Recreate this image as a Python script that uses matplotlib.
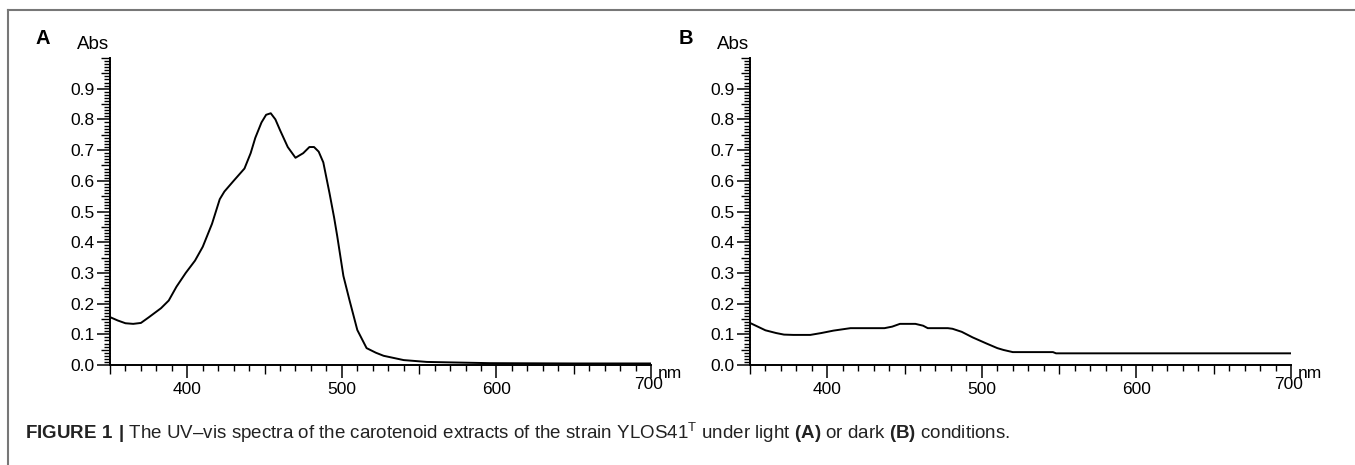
import matplotlib
matplotlib.use("Agg")
import matplotlib.pyplot as plt
from matplotlib.ticker import MultipleLocator
from matplotlib.lines import Line2D

plt.rcParams['font.family'] = ['Liberation Sans', 'DejaVu Sans']
plt.rcParams['mathtext.fontset'] = 'custom'
plt.rcParams['mathtext.rm'] = 'Liberation Sans'
plt.rcParams['mathtext.bf'] = 'Liberation Sans:bold'

# Spektrum A (Licht)
nm_a = [350, 355, 360, 365, 370, 375, 379, 383, 388, 393, 399, 405, 410, 416,
        421, 424, 430, 437, 441, 444, 448, 451, 454, 457, 460, 465, 470, 475,
        479, 482, 485, 488, 492, 495, 497, 501, 505, 510, 516, 522, 527, 540,
        555, 575, 596, 650, 700]
abs_a = [0.156, 0.145, 0.136, 0.134, 0.137, 0.155, 0.170, 0.185, 0.21, 0.255,
         0.30, 0.34, 0.385, 0.46, 0.54, 0.565, 0.60, 0.64, 0.69, 0.74, 0.79,
         0.815, 0.82, 0.80, 0.765, 0.71, 0.675, 0.69, 0.71, 0.71, 0.695, 0.66,
         0.56, 0.48, 0.42, 0.29, 0.21, 0.114, 0.055, 0.04, 0.03, 0.016, 0.01,
         0.008, 0.006, 0.005, 0.005]

# Spektrum B (Dunkel)
nm_b = [350, 355, 360, 367, 372, 378, 389, 396, 404, 415, 437, 442, 447, 457,
        462, 465, 478, 481, 487, 494, 503, 510, 514, 520, 546, 548, 700]
abs_b = [0.137, 0.125, 0.113, 0.104, 0.099, 0.098, 0.098, 0.104, 0.112, 0.12,
         0.12, 0.125, 0.134, 0.134, 0.128, 0.12, 0.12, 0.118, 0.108, 0.09,
         0.07, 0.055, 0.049, 0.042, 0.042, 0.038, 0.038]

x_ticks = [400, 500, 600, 700]
x_labels = ['400', '500', '600', '']
y_ticks = [0.0, 0.1, 0.2, 0.3, 0.4, 0.5, 0.6, 0.7, 0.8, 0.9]
y_labels = ['0.0', '0.1', '0.2', '0.3', '0.4', '0.5', '0.6', '0.7', '0.8', '0.9']

W, H = 1355, 465
fig = plt.figure(figsize=(W / 100, H / 100), dpi=100)


def panel(left_px, x, y, letter, letter_dx):
    ax = fig.add_axes([left_px / W, 1 - 365 / H, 541 / W, 307 / H])
    ax.plot(x, y, color='black', lw=1.4)
    ax.set_xlim(350, 700)
    ax.set_ylim(0, 1.0)
    for s in ['top', 'right']:
        ax.spines[s].set_visible(False)
    for s in ['left', 'bottom']:
        ax.spines[s].set_linewidth(1.4)
    ax.set_xticks(x_ticks)
    ax.set_xticklabels(x_labels)
    ax.set_yticks(y_ticks)
    ax.set_yticklabels(y_labels)
    ax.xaxis.set_minor_locator(MultipleLocator(10))
    ax.yaxis.set_minor_locator(MultipleLocator(0.01))
    ax.tick_params(which='major', length=9.5, width=1.1, labelsize=12.5, color='black')
    ax.tick_params(axis='x', which='major', pad=3)
    ax.tick_params(axis='y', which='major', pad=1.5)
    ax.tick_params(which='minor', length=4.3, width=1.0)
    # die 50er Striche etwas laenger
    fig.canvas.draw()
    for t in ax.xaxis.get_minor_ticks():
        if abs(t.get_loc() % 50) < 1e-6:
            t.tick1line.set_markersize(6.5)
    for t in ax.yaxis.get_minor_ticks():
        v = round(t.get_loc() * 100)
        if v % 5 == 0:
            t.tick1line.set_markersize(6.5)
    ax.text(-0.031, 1.045, 'Abs', transform=ax.transAxes, ha='center', va='center', fontsize=13.5)
    ax.text(letter_dx, 1.062, letter, transform=ax.transAxes, ha='center', va='center',
            fontsize=14.5, fontweight='bold')
    ax.text(0.995, -0.04, '700', transform=ax.transAxes, ha='center', va='top', fontsize=12.5)
    ax.text(1.012, -0.002, 'nm', transform=ax.transAxes, ha='left', va='top', fontsize=12.5)
    return ax


panel(110, nm_a, abs_a, 'A', -0.124)
panel(750, nm_b, abs_b, 'B', -0.118)

# Rahmen oben und links
fig.add_artist(Line2D([8 / W, 1], [1 - 10 / H, 1 - 10 / H], transform=fig.transFigure,
                      color='#777777', lw=1.5))
fig.add_artist(Line2D([8 / W, 8 / W], [1 - 10 / H, 0], transform=fig.transFigure,
                      color='#777777', lw=1.5))

caption = (r"$\mathbf{FIGURE\ 1\ |}$ The UV–vis spectra of the carotenoid extracts of the strain "
           r"YLOS41$^{\mathrm{T}}$ under light $\mathbf{(A)}$ or dark $\mathbf{(B)}$ conditions.")
fig.text(25 / W, 1 - 433 / H, caption, ha='left', va='center', fontsize=13.5, color='#222222')

fig.savefig('out.png', dpi=100)
